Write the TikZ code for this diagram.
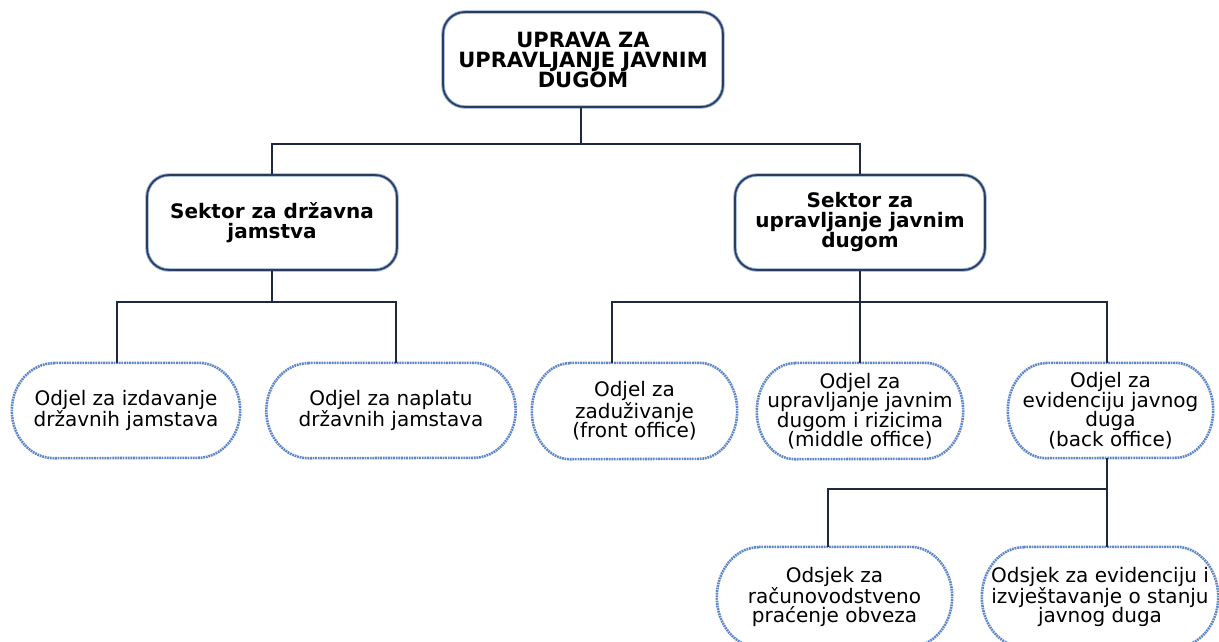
\documentclass[tikz,border=0pt]{standalone}
\usepackage{fontspec}
\setmainfont{DejaVu Sans}
\definecolor{boxline}{RGB}{45,58,88}
\definecolor{boxglow}{RGB}{135,165,212}
\definecolor{ovalcol}{RGB}{95,135,200}
\definecolor{conn}{RGB}{30,40,65}
% #1 node name, #2 x radius of the ends, #3 half height
\newcommand{\ovaldraw}[3]{%
  \draw[ovalstroke] ([xshift=#2pt]#1.north west) -- ([xshift=-#2pt]#1.north east)
    arc[start angle=90, end angle=-90, x radius=#2pt, y radius=#3pt]
    -- ([xshift=#2pt]#1.south west)
    arc[start angle=270, end angle=90, x radius=#2pt, y radius=#3pt] -- cycle;}
\begin{document}
\begin{tikzpicture}[x=1pt,y=1pt,
  txt/.style={align=center, inner sep=0pt, font=\fontsize{20}{19.5}\selectfont},
  headbox/.style={txt, font=\bfseries\fontsize{20}{20}\selectfont, draw=boxline,
     line width=1.6pt, rounded corners=22pt, preaction={draw=boxglow, line width=3.4pt}},
  ovalstroke/.style={draw=ovalcol, line width=2.6pt, dash pattern=on 1.8pt off 0.8pt},
  link/.style={draw=conn, line width=2pt}]
\fill[white] (0,0) rectangle (1219,-641);
\useasboundingbox (0,0) rectangle (1219,-641);

% level 1
\node[headbox, font=\bfseries\fontsize{21}{20}\selectfont, minimum width=280, minimum height=95] (top) at (583,-59.5)
  {UPRAVA ZA\\UPRAVLJANJE JAVNIM\\DUGOM};
% level 2
\node[headbox, minimum width=250, minimum height=95] (secL) at (272,-222.5)
  {Sektor za državna\\jamstva};
\node[headbox, minimum width=250, minimum height=95] (secR) at (860,-222.5)
  {Sektor za\\upravljanje javnim\\dugom};
% level 3
\node[txt, minimum width=228, minimum height=95] (b1) at (126,-410.5)
  {Odjel za izdavanje\\državnih jamstava};
\node[txt, minimum width=249, minimum height=95] (b2) at (391,-410.5)
  {Odjel za naplatu\\državnih jamstava};
\node[txt, minimum width=205, minimum height=96] (b3) at (634.5,-411)
  {Odjel za\\zaduživanje\\(front office)};
\node[txt, minimum width=206, minimum height=96] (b4) at (860,-411)
  {Odjel za\\upravljanje javnim\\dugom i rizicima\\(middle office)};
\node[txt, minimum width=205, minimum height=95] (b5) at (1110.5,-410.5)
  {Odjel za\\evidenciju javnog\\duga\\(back office)};
% level 4
\node[txt, minimum width=235, minimum height=100] (b6) at (834.5,-597)
  {Odsjek za\\računovodstveno\\praćenje obveza};
\node[txt, minimum width=236, minimum height=100] (b7) at (1100,-597)
  {Odsjek za evidenciju i\\izvještavanje o stanju\\javnog duga};

\ovaldraw{b1}{42}{47.5}
\ovaldraw{b2}{42}{47.5}
\ovaldraw{b3}{38}{48}
\ovaldraw{b4}{38}{48}
\ovaldraw{b5}{38}{47.5}
\ovaldraw{b6}{42}{50}
\ovaldraw{b7}{42}{50}

% connectors
\coordinate (j0) at (581,-144);
\draw[link] ([xshift=-2pt]top.south) -- (j0);
\draw[link] (secL.north) |- (j0) -| (secR.north);
\draw[link] (secL.south) -- ++(0,-31) coordinate (jL);
\draw[link] ([xshift=-9pt]b1.north) |- (jL) -| ([xshift=5pt]b2.north);
\draw[link] (secR.south) -- ++(0,-31) coordinate (jR);
\draw[link] ([xshift=-22.5pt]b3.north) |- (jR) -| ([xshift=-3.5pt]b5.north);
\draw[link] (jR) -- (b4.north);
\draw[link] ([xshift=-3.5pt]b5.south) -- ++(0,-31) coordinate (jB);
\draw[link] ([xshift=-6.5pt]b6.north) |- (jB) -- ([xshift=7pt]b7.north);
\end{tikzpicture}
\end{document}
